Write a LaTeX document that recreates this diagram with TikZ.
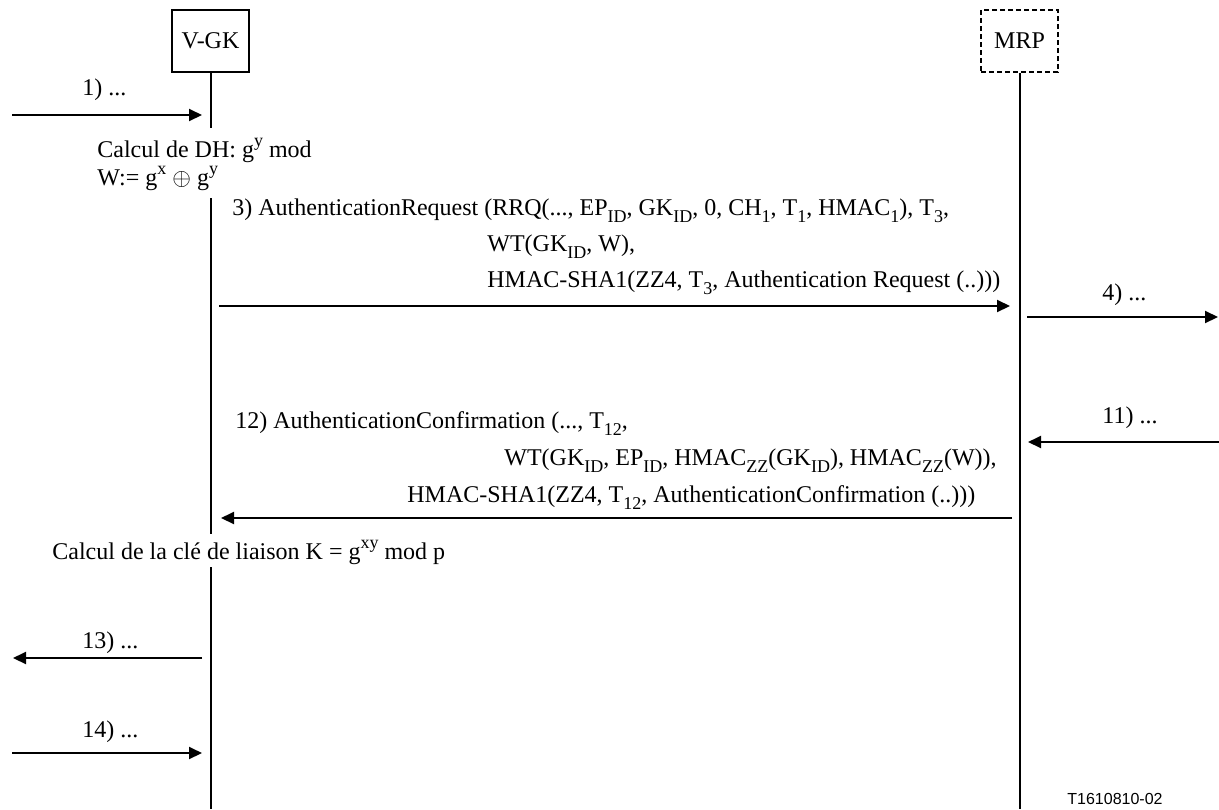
\documentclass[tikz,border=0pt]{standalone}
\usepackage{fontspec}
\setmainfont{Liberation Serif}
\newfontfamily\tagfont{Liberation Sans}
\usetikzlibrary{arrows.meta,positioning}

\newcommand{\lowtxt}[1]{\raisebox{-0.32em}{\fontsize{9}{9}\selectfont #1}}
\newcommand{\hightxt}[1]{\raisebox{0.42em}{\fontsize{9}{9}\selectfont #1}}

\tikzset{
  actor/.style={draw, line width=0.6pt, minimum width=38.5pt, minimum height=31pt, inner sep=0pt},
  life/.style={line width=1pt},
  msg/.style={line width=1pt, -{Triangle[length=6.5pt,width=6pt]}},
  lbl/.style={anchor=base west, inner sep=0pt},
}

\begin{document}
\begin{tikzpicture}[x=0.5pt, y=-0.5pt, font=\fontsize{12}{14}\selectfont]
    \useasboundingbox (0,0) rectangle (1219,809);

    % Entities
    \node[actor] (vgk) at (210.5,41) {V-GK};
    \node[actor, dashed, dash pattern=on 2.5pt off 1.5pt, line width=0.8pt] (mrp) at (1019.5,41) {MRP};

    % Lifelines
    \coordinate (vgk1) at (210.5,128);
    \coordinate (vgk2) at (210.5,198);
    \coordinate (vgk3) at (210.5,534);
    \coordinate (vgk4) at (210.5,567);
    \coordinate (vgkend) at (210.5,809);
    \coordinate (mrpend) at (1019.5,809);
    \draw[life] (vgk.south) -- (vgk1);
    \draw[life] (vgk2) -- (vgk3);
    \draw[life] (vgk4) -- (vgkend);
    \draw[life] (mrp.south) -- (mrpend);

    % 1)
    \coordinate (m1a) at (12,115);
    \coordinate (m1b) at (202,115);
    \draw[msg] (m1a) -- (m1b);
    \node[lbl] (l1) at (82,95) {1) ...};

    % DH computation
    \node[lbl] (dh1) at (97,157) {Calcul de DH: g\hightxt{y} mod};
    \node[lbl] (dh2) at (97,185) {W:= g\hightxt{x} $\oplus$ g\hightxt{y}};

    % 3) AuthenticationRequest
    \node[lbl] (rq1) at (232,215) {3) AuthenticationRequest (RRQ(..., EP\lowtxt{ID}, GK\lowtxt{ID}, 0, CH\lowtxt{1}, T\lowtxt{1}, HMAC\lowtxt{1}), T\lowtxt{3},};
    \node[lbl] (rq2) at (487,251) {WT(GK\lowtxt{ID}, W),};
    \node[lbl] (rq3) at (487,287) {HMAC-SHA1(ZZ4, T\lowtxt{3}, Authentication Request (..)))};
    \coordinate (m3a) at (219,306);
    \coordinate (m3b) at (1010,306);
    \draw[msg] (m3a) -- (m3b);

    % 4)
    \coordinate (m4a) at (1027,317);
    \coordinate (m4b) at (1218,317);
    \draw[msg] (m4a) -- (m4b);
    \node[lbl] (l4) at (1102,300) {4) ...};

    % 11)
    \coordinate (m11a) at (1219,442);
    \coordinate (m11b) at (1028,442);
    \draw[msg] (m11a) -- (m11b);
    \node[lbl] (l11) at (1102,423) {11) ...};

    % 12) AuthenticationConfirmation
    \node[lbl] (cf1) at (235,428) {12) AuthenticationConfirmation (..., T\lowtxt{12},};
    \node[lbl] (cf2) at (504,465) {WT(GK\lowtxt{ID}, EP\lowtxt{ID}, HMAC\lowtxt{ZZ}(GK\lowtxt{ID}), HMAC\lowtxt{ZZ}(W)),};
    \node[lbl] (cf3) at (407,502) {HMAC-SHA1(ZZ4, T\lowtxt{12}, AuthenticationConfirmation (..)))};
    \coordinate (m12a) at (1012,518);
    \coordinate (m12b) at (221,518);
    \draw[msg] (m12a) -- (m12b);

    % Key computation
    \node[lbl] (key) at (52,559) {Calcul de la clé de liaison K = g\hightxt{xy} mod p};

    % 13)
    \coordinate (m13a) at (202,658);
    \coordinate (m13b) at (13,658);
    \draw[msg] (m13a) -- (m13b);
    \node[lbl] (l13) at (82,648) {13) ...};

    % 14)
    \coordinate (m14a) at (12,753);
    \coordinate (m14b) at (202,753);
    \draw[msg] (m14a) -- (m14b);
    \node[lbl] (l14) at (82,737) {14) ...};

    % Figure tag
    \node[anchor=base, inner sep=0pt, font=\tagfont\fontsize{8}{9}\selectfont] (tag) at (1115,804) {T1610810-02};
\end{tikzpicture}
\end{document}
